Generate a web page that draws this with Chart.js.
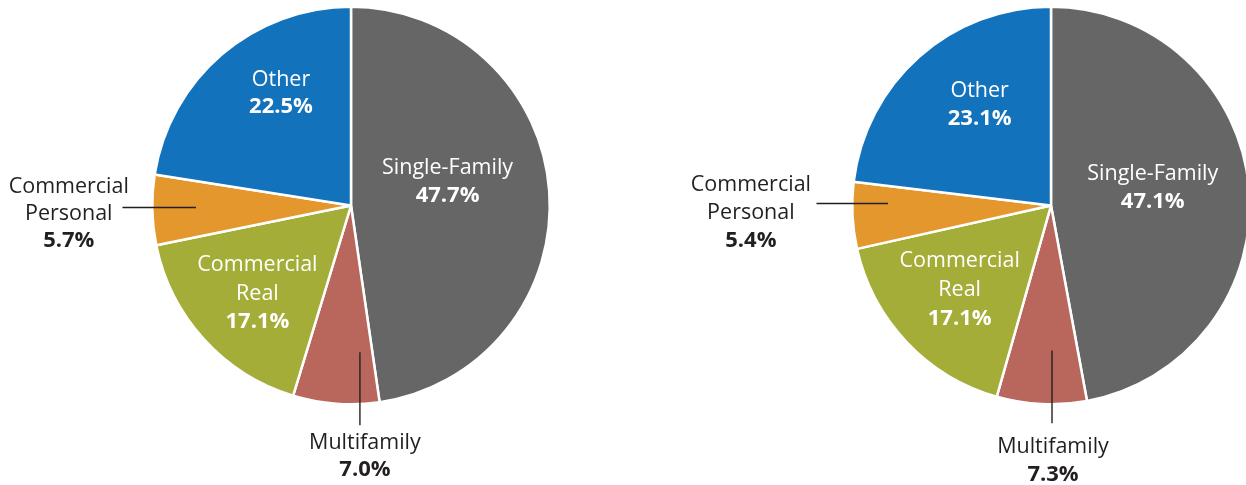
<!DOCTYPE html>
<html>
<head>
<meta charset="utf-8">
<script src="https://cdn.jsdelivr.net/npm/chart.js@4/dist/chart.umd.min.js"></script>
<style>
  html, body { margin: 0; padding: 0; background: #ffffff; overflow: hidden; }
  body { width: 1246px; height: 485px; position: relative; }
  .pie { position: absolute; top: 0; height: 485px; }
  #pieA { left: 0; width: 702px; }
  #pieB { left: 600px; width: 902px; }
</style>
</head>
<body>
<div class="pie" id="pieA"><canvas id="chartA"></canvas></div>
<div class="pie" id="pieB"><canvas id="chartB"></canvas></div>
<script>
// Loan portfolio composition, two periods
const categories = ['Single-Family', 'Multifamily', 'Commercial Real', 'Commercial Personal', 'Other'];
const labelLines = [['Single-Family'], ['Multifamily'], ['Commercial', 'Real'], ['Commercial', 'Personal'], ['Other']];
const valuesA = [47.7, 7.0, 17.1, 5.7, 22.5];
const valuesB = [47.1, 7.3, 17.1, 5.4, 23.1];

const sliceColors = ['#656665', '#b9675c', '#a4ad38', '#e4972c', '#1272bc'];
const TEXT = '#231f20';
const FONT = '"Open Sans", "Noto Sans", sans-serif';
const FS = 21.5;
const FS_BOLD = 22;

// label placement per slice: inside labels sit at a fraction of the radius
// (angle tweak in degrees); outside labels hang off a leader line
const placeA = [
  { mode: 'in', r: 0.50, dA: -9.5, lh: 28 },
  { mode: 'out', dir: 'down', r: 0.74, dA: -7.8, len: 1.106, tx: 5, ty: 31, lh: 26.5 },
  { mode: 'in', r: 0.647, dA: -1, lh: 28.5 },
  { mode: 'out', dir: 'left', r: 0.78, dA: 0.5, len: 1.15, tx: 1.42, ty: 6, lh: 27 },
  { mode: 'in', r: 0.665, dA: 8.5, lh: 27.5 }
];
const placeB = [
  { mode: 'in', r: 0.52, dA: -4.8, lh: 28 },
  { mode: 'out', dir: 'down', r: 0.73, dA: -3.1, len: 1.096, tx: 1, ty: 37.5, lh: 27 },
  { mode: 'in', r: 0.625, dA: 0.7, lh: 29 },
  { mode: 'out', dir: 'left', r: 0.82, dA: 3.6, len: 1.18, tx: 1.51, ty: 9, lh: 28 },
  { mode: 'in', r: 0.62, dA: 6.2, lh: 28 }
];

const sliceLabels = {
  id: 'sliceLabels',
  afterDatasetsDraw(chart, args, opts) {
    const ctx = chart.ctx;
    const meta = chart.getDatasetMeta(0);
    const values = chart.data.datasets[0].data;
    meta.data.forEach((arc, i) => {
      const p = opts.place[i];
      const R = arc.outerRadius;
      const mid = (arc.startAngle + arc.endAngle) / 2 + p.dA * Math.PI / 180;
      const ax = arc.x + Math.cos(mid) * R * p.r;
      const ay = arc.y + Math.sin(mid) * R * p.r;
      const lines = labelLines[i].concat([values[i].toFixed(1) + '%']);
      let cx, cy, color;
      ctx.save();
      if (p.mode === 'in') {
        cx = ax; cy = ay; color = '#ffffff';
      } else {
        color = TEXT;
        ctx.strokeStyle = TEXT;
        ctx.lineWidth = 1.4;
        ctx.beginPath();
        ctx.moveTo(ax, ay);
        if (p.dir === 'left') {
          const ex = arc.x - R * p.len;
          ctx.lineTo(ex, ay);
          cx = arc.x - R * p.tx; cy = ay + p.ty;
        } else {
          const ey = arc.y + R * p.len;
          ctx.lineTo(ax, ey);
          cx = ax + p.tx; cy = ey + p.ty;
        }
        ctx.stroke();
      }
      ctx.fillStyle = color;
      ctx.textAlign = 'center';
      ctx.textBaseline = 'middle';
      const n = lines.length;
      lines.forEach((t, k) => {
        const bold = k === n - 1;
        ctx.font = bold ? ('700 ' + FS_BOLD + 'px ' + FONT) : ('400 ' + FS + 'px ' + FONT);
        ctx.fillText(t, cx, cy + (k - (n - 1) / 2) * p.lh);
      });
      ctx.restore();
    });
  }
};

function makePie(id, values, place, padX) {
  return new Chart(document.getElementById(id), {
    type: 'pie',
    data: {
      labels: categories,
      datasets: [{
        data: values,
        backgroundColor: sliceColors,
        borderColor: '#ffffff',
        borderWidth: 2.5,
        hoverOffset: 0
      }]
    },
    options: {
      responsive: true,
      maintainAspectRatio: false,
      animation: false,
      events: [],
      layout: { padding: { top: 5.5, bottom: 79.5, left: padX, right: padX } },
      plugins: {
        legend: { display: false },
        tooltip: { enabled: false },
        sliceLabels: { place: place }
      }
    },
    plugins: [sliceLabels]
  });
}

makePie('chartA', valuesA, placeA, 151);
makePie('chartB', valuesB, placeB, 251);
</script>
</body>
</html>
